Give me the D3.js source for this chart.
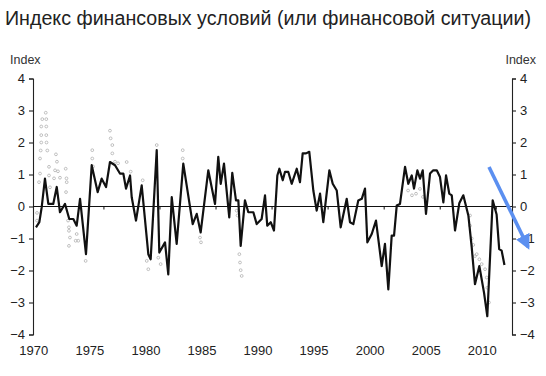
<!DOCTYPE html>
<html>
<head>
<meta charset="utf-8">
<script src="https://cdn.jsdelivr.net/npm/d3@7"></script>
<style>
  body { margin: 0; background: #fff; }
  svg { display: block; font-family: "Liberation Sans", Arial, sans-serif; }
</style>
</head>
<body>
<script>
const width = 546;
const height = 376;

// Indice (ligne noire) : [année, valeur]
const indexYears = [1970.24, 1970.54, 1970.75, 1971.04, 1971.34, 1971.78, 1972.09, 1972.38, 1972.83, 1973.21,
  1973.57, 1973.87, 1974.17, 1974.70, 1975.21, 1975.74, 1976.10, 1976.49, 1976.84, 1977.29,
  1977.73, 1978.03, 1978.27, 1978.63, 1978.78, 1979.16, 1979.67, 1980.26, 1980.47, 1981.01,
  1981.24, 1981.75, 1982.04, 1982.35, 1982.79, 1983.38, 1984.22, 1984.58, 1984.93, 1985.61,
  1986.21, 1986.50, 1986.72, 1987.01, 1987.48, 1987.75, 1988.08, 1988.29, 1988.50, 1988.88,
  1989.18, 1989.63, 1989.93, 1990.37, 1990.67, 1990.87, 1991.18, 1991.47, 1991.77, 1991.95,
  1992.25, 1992.45, 1992.75, 1993.05, 1993.50, 1993.79, 1994.03, 1994.33, 1994.62, 1994.98,
  1995.28, 1995.58, 1995.87, 1996.41, 1996.71, 1997.07, 1997.42, 1997.96, 1998.25, 1998.55,
  1998.99, 1999.30, 1999.59, 1999.80, 2000.19, 2000.57, 2001.08, 2001.37, 2001.67, 2001.97,
  2002.18, 2002.42, 2002.71, 2003.16, 2003.45, 2003.76, 2003.96, 2004.26, 2004.50, 2004.74,
  2005.03, 2005.39, 2005.68, 2005.99, 2006.28, 2006.58, 2006.82, 2007.11, 2007.33, 2007.62,
  2008.00, 2008.36, 2008.81, 2009.11, 2009.40, 2009.79, 2010.21, 2010.50, 2010.98, 2011.33,
  2011.56, 2011.78, 2012.03];
const indexValues = [-0.65, -0.49, -0.02, 0.87, 0.08, 0.08, 0.61, -0.18, 0.08, -0.39,
  -0.39, -0.6, 0.24, -1.49, 1.29, 0.45, 0.87, 0.61, 1.39, 1.29,
  1.03, 1.03, 0.56, 0.97, 0.29, -0.44, 0.66, -1.49, -1.65, 1.76,
  -1.44, -1.12, -2.12, 0.29, -1.17, 1.34, -0.55, -0.23, -0.81, 1.13,
  0.08, 1.55, 0.71, 1.34, -0.34, 1.05, 0.19, 0.19, -1.23, 0.19,
  -0.18, -0.18, -0.55, -0.39, 0.35, -0.6, -0.49, -0.75, 0.97, 1.18,
  0.82, 1.08, 1.08, 0.71, 1.18, 0.76, 1.66, 1.66, 1.71, 0.5,
  -0.13, 0.4, -0.49, 1.13, 0.71, 0.5, -0.65, 0.24, -0.49, -0.55,
  0.19, 0.24, 0.56, -1.12, -0.86, -0.44, -1.86, -1.17, -2.59, -0.91,
  -0.91, 0.03, 0.08, 1.24, 0.71, 0.97, 0.56, 1.13, 0.87, 1.13,
  -0.23, 1.03, 1.13, 1.13, 0.92, 0.13, 0.97, 0.4, 0.35, -0.75,
  0.1, 0.35, -0.28, -1.28, -2.43, -1.86, -2.7, -3.43, 0.19, -0.25,
  -1.33, -1.38, -1.83];

// Série grise (petits cercles) : là où elle se détache de la ligne noire
const altYears = [1970.33, 1970.33, 1970.51, 1970.60, 1970.60, 1970.66, 1970.71, 1970.71, 1970.71, 1970.80,
  1971.11, 1971.16, 1971.16, 1971.16, 1971.18, 1971.25, 1971.40, 1971.40, 1971.49,
  1971.85, 1971.94, 1972.02, 1972.11, 1972.20, 1972.38, 1972.89, 1972.96, 1972.98, 1972.92,
  1973.10, 1973.18, 1973.18, 1973.27, 1973.18, 1973.78, 1973.87, 1974.01, 1974.67,
  1975.26, 1975.26, 1975.33, 1976.84, 1976.90, 1977.05, 1977.05, 1977.29, 1977.56, 1978.33, 1978.69,
  1979.76, 1980.12, 1980.26, 1981.01, 1981.15, 1981.36, 1983.33, 1983.33, 1984.87, 1984.96,
  1988.14, 1988.22, 1988.38, 1988.44, 1988.50, 1988.59,
  2003.43, 2003.78, 2004.14, 2004.49, 2004.76,
  2008.96, 2008.96, 2009.11, 2009.25, 2009.40, 2009.56, 2009.79, 2010.00, 2010.30, 2010.45, 2010.50, 2010.65];
const altValues = [-0.44, -0.2, 0.76, 1.03, 1.5, 1.75, 2.0, 2.23, 2.5, 2.73,
  2.93, 2.73, 2.5, 2.23, 2.0, 1.75, 1.24, 0.97, 0.6,
  0.88, 1.13, 1.63, 1.4, 1.1, 0.9, 1.18, 0.88, 0.76, 0.45,
  -0.44, -0.65, -0.76, -0.97, -1.23, -1.07, -0.86, -1.07, -1.7,
  1.76, 1.5, 1.25, 2.37, 2.13, 1.92, 1.66, 1.4, 1.35, 1.39, 1.09,
  0.82, -1.7, -1.96, 1.92, -1.6, -1.8, 1.76, 1.5, -0.97, -1.12,
  -0.13, -0.28, -1.49, -1.75, -1.99, -2.17,
  0.5, 0.35, 0.4, 0.55, 0.3,
  -0.28, -0.6, -1.0, -1.2, -1.55, -1.49, -1.65, -1.8, -1.96, -2.22, -2.54, -3.0];

const yearTicks = [1970, 1975, 1980, 1985, 1990, 1995, 2000, 2005, 2010];
const minorTicks = [1976.3, 1981.3, 1986.3, 1991.3, 1996.3, 2001.3, 2006.3, 2011.3];
const valueTicks = [-4, -3, -2, -1, 0, 1, 2, 3, 4];

const title = "Индекс финансовых условий (или финансовой ситуации)";

const plotLeft = 33;
const plotRight = 512;

const svg = d3.select("body").append("svg")
    .attr("width", width)
    .attr("height", height);

svg.append("rect").attr("width", width).attr("height", height).attr("fill", "#fff");

const x = d3.scaleLinear().domain([1970, 2010]).range([33.3, 481.7]);
const y = d3.scaleLinear().domain([-4, 4]).range([334.5, 78.5]);

// Titre
svg.append("text")
    .attr("x", 5)
    .attr("y", 25)
    .attr("font-size", 20)
    .attr("fill", "#222")
    .attr("textLength", 526)
    .attr("lengthAdjust", "spacingAndGlyphs")
    .text(title);

// Libellés "Index"
svg.append("text").attr("x", 10).attr("y", 64).attr("font-size", 12.5).attr("fill", "#333").text("Index");
svg.append("text").attr("x", 536).attr("y", 64).attr("font-size", 12.5).attr("fill", "#333")
    .attr("text-anchor", "end").text("Index");

// Axes verticaux (gauche et droite)
const leftAxis = svg.append("g")
    .attr("transform", `translate(${plotLeft},0)`)
    .call(d3.axisLeft(y).tickValues(valueTicks).tickSize(4).tickPadding(4));
const rightAxis = svg.append("g")
    .attr("transform", `translate(${plotRight},0)`)
    .call(d3.axisRight(y).tickValues(valueTicks).tickSize(4).tickPadding(4));

[leftAxis, rightAxis].forEach(g => {
    g.selectAll("path, line").attr("stroke", "#222").attr("stroke-width", 1.1);
    g.selectAll("text").attr("font-size", 13).attr("fill", "#222")
        .attr("font-family", "Liberation Sans, Arial, sans-serif");
});

// Axe des années (libellés seulement)
const bottomAxis = svg.append("g")
    .attr("transform", "translate(0,342)")
    .call(d3.axisBottom(x).tickValues(yearTicks).tickFormat(d3.format("d")).tickSize(0).tickPadding(4));
bottomAxis.select(".domain").remove();
bottomAxis.selectAll("text").attr("font-size", 13).attr("fill", "#222")
    .attr("font-family", "Liberation Sans, Arial, sans-serif");

// Série grise en petits cercles
svg.append("g")
    .selectAll("circle")
    .data(altYears.map((d, i) => [d, altValues[i]]))
    .enter()
    .append("circle")
    .attr("cx", d => x(d[0]))
    .attr("cy", d => y(d[1]))
    .attr("r", 1.4)
    .attr("fill", "none")
    .attr("stroke", "#a8a8a8")
    .attr("stroke-width", 0.7);

// Ligne zéro
svg.append("line")
    .attr("x1", plotLeft).attr("x2", plotRight)
    .attr("y1", y(0)).attr("y2", y(0))
    .attr("stroke", "#111").attr("stroke-width", 1.2);

svg.append("g")
    .selectAll("line")
    .data(minorTicks)
    .enter()
    .append("line")
    .attr("x1", d => x(d)).attr("x2", d => x(d))
    .attr("y1", y(0)).attr("y2", y(0) + 3)
    .attr("stroke", "#111");

// Ligne principale
const line = d3.line()
    .x(d => x(d[0]))
    .y(d => y(d[1]));

svg.append("path")
    .datum(indexYears.map((d, i) => [d, indexValues[i]]))
    .attr("d", line)
    .attr("fill", "none")
    .attr("stroke", "#111")
    .attr("stroke-width", 2.2)
    .attr("stroke-linejoin", "round");

// Flèche bleue
const defs = svg.append("defs");
defs.append("marker")
    .attr("id", "arrow")
    .attr("viewBox", "0 0 10 10")
    .attr("refX", 8)
    .attr("refY", 5)
    .attr("markerWidth", 4.2)
    .attr("markerHeight", 4.2)
    .attr("orient", "auto")
    .append("path")
    .attr("d", "M0,0 L10,5 L0,10 Z")
    .attr("fill", "#5b8ff0");

svg.append("line")
    .attr("x1", 489).attr("y1", 167)
    .attr("x2", 528).attr("y2", 247)
    .attr("stroke", "#5b8ff0")
    .attr("stroke-width", 3.6)
    .attr("marker-end", "url(#arrow)");
</script>
</body>
</html>
